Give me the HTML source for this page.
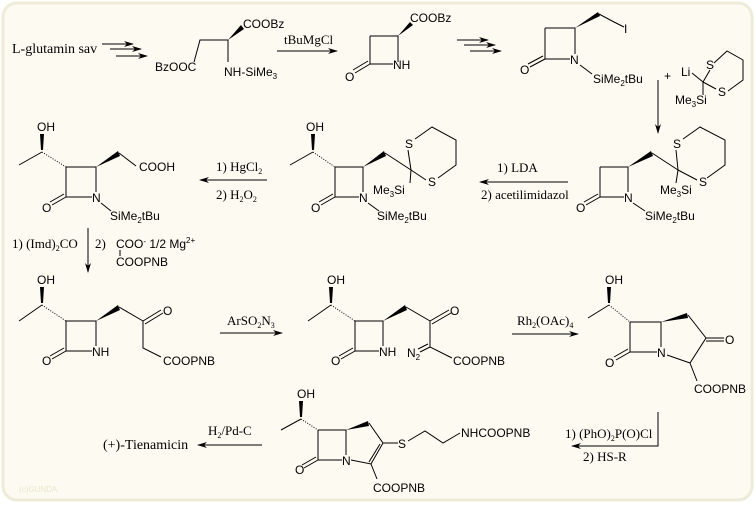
<!DOCTYPE html>
<html><head><meta charset="utf-8"><style>
html,body{margin:0;padding:0;background:#fff;width:756px;height:506px;overflow:hidden}
svg{display:block}
.s{font-family:"Liberation Sans",sans-serif;font-size:12px;fill:#000}
.r{font-family:"Liberation Serif",serif;font-size:13px;fill:#000}
line,polyline,polygon.b{stroke:#000;stroke-width:1;fill:none}
</style></head><body>
<svg width="756" height="506" viewBox="0 0 756 506" xmlns="http://www.w3.org/2000/svg">
<defs>
<marker id="ah" markerWidth="10" markerHeight="6" refX="9" refY="3" orient="auto" markerUnits="userSpaceOnUse"><path d="M0,0 L10,3 L0,6 L3,3 Z" fill="#000"/></marker>
</defs>
<rect x="3" y="3" width="749" height="497" rx="14" fill="#fdfaf2" stroke="#eeebd8" stroke-width="3"/>

<!-- Row 1 -->
<text class="r" x="12" y="53" style="font-size:14px">L-glutamin sav</text>
<line x1="102" y1="44" x2="133" y2="44" marker-end="url(#ah)"/>
<line x1="110" y1="49" x2="141" y2="49" marker-end="url(#ah)"/>
<line x1="116" y1="56" x2="147" y2="56" marker-end="url(#ah)"/>
<text class="s" x="155" y="71">BzOOC</text>
<polyline points="194,62 200,40 228,40 228,62"/>
<polygon points="228,40 241,25 244,29" fill="#000"/>
<text class="s" x="243" y="28">COOBz</text>
<text class="s" x="224" y="76">NH-SiMe<tspan font-size="8" dy="3">3</tspan></text>
<line x1="277" y1="51" x2="337" y2="51" marker-end="url(#ah)"/>
<text class="r" x="284" y="44">tBuMgCl</text>

<polyline points="370,36 398,36 398,62"/>
<line x1="370" y1="36" x2="370" y2="64"/>
<line x1="370" y1="64" x2="393" y2="64"/>
<line x1="370" y1="64" x2="355" y2="73"/><line x1="368" y1="61" x2="353" y2="70"/>
<text class="s" x="345" y="81">O</text>
<text class="s" x="393" y="69">NH</text>
<polygon points="398,36 410,22 413,25" fill="#000"/>
<text class="s" x="410" y="22">COOBz</text>
<line x1="457" y1="40" x2="488" y2="40" marker-end="url(#ah)"/>
<line x1="464" y1="45" x2="495" y2="45" marker-end="url(#ah)"/>
<line x1="470" y1="51" x2="501" y2="51" marker-end="url(#ah)"/>

<polyline points="545,28 575,28 575,54"/>
<line x1="545" y1="28" x2="545" y2="59"/>
<line x1="545" y1="59" x2="570" y2="59"/>
<line x1="545" y1="59" x2="530" y2="67"/><line x1="543" y1="56" x2="528" y2="64"/>
<text class="s" x="520" y="74">O</text>
<text class="s" x="570" y="64">N</text>
<line x1="580" y1="65" x2="592" y2="74"/>
<text class="s" x="593" y="83">SiMe<tspan font-size="8" dy="3">2</tspan><tspan dy="-3">tBu</tspan></text>
<polygon points="575,28 598,12 600,16" fill="#000"/>
<polyline points="599,14 614,22 624,27"/>
<text class="s" x="624" y="33">I</text>
<text class="s" x="664" y="80">+</text>
<text class="s" x="681" y="76">Li</text>
<line x1="692" y1="73" x2="703" y2="82"/>
<text class="s" x="706" y="69">S</text>
<text class="s" x="718" y="96">S</text>
<polyline points="703,82 710,70"/>
<polyline points="714,63 727,51 743,60 743,80 728,91"/>
<line x1="703" y1="82" x2="716" y2="89"/>
<line x1="703" y1="82" x2="703" y2="95"/>
<text class="s" x="675" y="104">Me<tspan font-size="8" dy="3">3</tspan><tspan dy="-3">Si</tspan></text>
<line x1="658" y1="80" x2="658" y2="133" marker-end="url(#ah)"/>

<!-- Row 2 right -->
<polyline points="600,167 628,167 628,192"/>
<line x1="600" y1="167" x2="600" y2="197"/>
<line x1="600" y1="197" x2="624" y2="197"/>
<line x1="600" y1="197" x2="586" y2="205"/><line x1="598" y1="194" x2="584" y2="202"/>
<text class="s" x="576" y="212">O</text>
<text class="s" x="624" y="202">N</text>
<line x1="633" y1="203" x2="645" y2="211"/>
<text class="s" x="645" y="220">SiMe<tspan font-size="8" dy="3">2</tspan><tspan dy="-3">tBu</tspan></text>
<polygon points="628,167 651,151 653,156" fill="#000"/>
<polyline points="652,153 678,170"/>
<line x1="678" y1="170" x2="676" y2="150"/>
<text class="s" x="673" y="148">S</text>
<polyline points="683,139 700,127 725,140 725,165 707,178"/>
<text class="s" x="699" y="186">S</text>
<line x1="678" y1="170" x2="697" y2="180"/>
<line x1="678" y1="170" x2="676" y2="183"/>
<text class="s" x="660" y="194">Me<tspan font-size="8" dy="3">3</tspan><tspan dy="-3">Si</tspan></text>
<line x1="568" y1="182" x2="480" y2="182" marker-end="url(#ah)"/>
<text class="r" x="497" y="172">1) LDA</text>
<text class="r" x="481" y="199">2)  acetilimidazol</text>

<!-- Row 2 middle -->
<text class="s" x="306" y="131">OH</text>
<polygon points="311,134 315,134 314,150 312,150" fill="#000"/>
<line x1="313" y1="152" x2="290" y2="165"/>
<line x1="313" y1="152" x2="335" y2="167" stroke-dasharray="1,1.5"/>
<polyline points="335,167 363,167 363,192"/>
<line x1="335" y1="167" x2="335" y2="197"/>
<line x1="335" y1="197" x2="359" y2="197"/>
<line x1="335" y1="197" x2="321" y2="205"/><line x1="333" y1="194" x2="319" y2="202"/>
<text class="s" x="311" y="212">O</text>
<text class="s" x="359" y="202">N</text>
<line x1="368" y1="203" x2="379" y2="211"/>
<text class="s" x="377" y="220">SiMe<tspan font-size="8" dy="3">2</tspan><tspan dy="-3">tBu</tspan></text>
<polygon points="363,167 384,151 386,156" fill="#000"/>
<polyline points="385,153 411,170"/>
<line x1="411" y1="170" x2="408" y2="150"/>
<text class="s" x="405" y="148">S</text>
<polyline points="415,139 432,127 456,140 456,165 438,178"/>
<text class="s" x="428" y="186">S</text>
<line x1="411" y1="170" x2="426" y2="180"/>
<line x1="411" y1="170" x2="410" y2="183"/>
<text class="s" x="373" y="194">Me<tspan font-size="8" dy="3">3</tspan><tspan dy="-3">Si</tspan></text>
<line x1="267" y1="180" x2="200" y2="180" marker-end="url(#ah)"/>
<text class="r" x="216" y="171">1) HgCl<tspan font-size="8" dy="3">2</tspan></text>
<text class="r" x="216" y="199">2) H<tspan font-size="8" dy="3">2</tspan><tspan dy="-3">O</tspan><tspan font-size="8" dy="3">2</tspan></text>

<!-- Row 2 left -->
<text class="s" x="37" y="131">OH</text>
<polygon points="40,134 44,134 43,150 41,150" fill="#000"/>
<line x1="42" y1="152" x2="19" y2="165"/>
<line x1="42" y1="152" x2="66" y2="167" stroke-dasharray="1,1.5"/>
<polyline points="66,167 96,167 96,192"/>
<line x1="66" y1="167" x2="66" y2="197"/>
<line x1="66" y1="197" x2="92" y2="197"/>
<line x1="66" y1="197" x2="52" y2="205"/><line x1="64" y1="194" x2="50" y2="202"/>
<text class="s" x="42" y="212">O</text>
<text class="s" x="92" y="202">N</text>
<line x1="101" y1="203" x2="111" y2="211"/>
<text class="s" x="110" y="220">SiMe<tspan font-size="8" dy="3">2</tspan><tspan dy="-3">tBu</tspan></text>
<polygon points="96,167 118,151 120,156" fill="#000"/>
<polyline points="119,153 136,166"/>
<text class="s" x="139" y="171">COOH</text>

<line x1="88" y1="228" x2="88" y2="272" marker-end="url(#ah)"/>
<text class="r" x="12" y="248">1)  (Imd)<tspan font-size="8" dy="3">2</tspan><tspan dy="-3">CO</tspan></text>
<text class="r" x="95" y="248">2)</text>
<text class="s" x="116" y="248">COO<tspan font-size="8" dy="-4">-</tspan><tspan dy="4"> 1/2 Mg</tspan><tspan font-size="8" dy="-5">2+</tspan></text>
<line x1="120" y1="250" x2="120" y2="256"/>
<text class="s" x="116" y="266">COOPNB</text>

<!-- Row 3 left -->
<text class="s" x="37" y="284">OH</text>
<polygon points="40,287 44,287 43,303 41,303" fill="#000"/>
<line x1="42" y1="305" x2="19" y2="321"/>
<line x1="42" y1="305" x2="66" y2="321" stroke-dasharray="1,1.5"/>
<polyline points="66,321 96,321 96,346"/>
<line x1="66" y1="321" x2="66" y2="351"/>
<line x1="66" y1="351" x2="92" y2="351"/>
<line x1="66" y1="351" x2="52" y2="359"/><line x1="64" y1="348" x2="50" y2="356"/>
<text class="s" x="42" y="365">O</text>
<text class="s" x="92" y="356">NH</text>
<polygon points="96,321 118,305 120,310" fill="#000"/>
<polyline points="119,307 143,321 143,348 161,357"/>
<line x1="143" y1="321" x2="161" y2="310"/><line x1="145" y1="324" x2="163" y2="313"/>
<text class="s" x="163" y="315">O</text>
<text class="s" x="163" y="365">COOPNB</text>
<line x1="220" y1="333" x2="282" y2="333" marker-end="url(#ah)"/>
<text class="r" x="227" y="325">ArSO<tspan font-size="8" dy="3">2</tspan><tspan dy="-3">N</tspan><tspan font-size="8" dy="3">3</tspan></text>

<!-- Row 3 middle -->
<text class="s" x="327" y="284">OH</text>
<polygon points="329,287 333,287 332,303 330,303" fill="#000"/>
<line x1="331" y1="305" x2="308" y2="321"/>
<line x1="331" y1="305" x2="355" y2="321" stroke-dasharray="1,1.5"/>
<polyline points="355,321 383,321 383,346"/>
<line x1="355" y1="321" x2="355" y2="351"/>
<line x1="355" y1="351" x2="379" y2="351"/>
<line x1="355" y1="351" x2="341" y2="359"/><line x1="353" y1="348" x2="339" y2="356"/>
<text class="s" x="331" y="365">O</text>
<text class="s" x="379" y="356">NH</text>
<polygon points="383,321 405,305 407,310" fill="#000"/>
<polyline points="406,307 430,321 430,347 452,358"/>
<line x1="430" y1="321" x2="449" y2="310"/><line x1="432" y1="324" x2="451" y2="313"/>
<text class="s" x="450" y="315">O</text>
<line x1="430" y1="347" x2="420" y2="352"/><line x1="428" y1="344" x2="418" y2="349"/>
<text class="s" x="407" y="357">N<tspan font-size="8" dy="3">2</tspan></text>
<text class="s" x="453" y="365">COOPNB</text>
<line x1="512" y1="334" x2="578" y2="334" marker-end="url(#ah)"/>
<text class="r" x="517" y="325">Rh<tspan font-size="8" dy="3">2</tspan><tspan dy="-3">(OAc)</tspan><tspan font-size="8" dy="3">4</tspan></text>

<!-- Row 3 right -->
<text class="s" x="605" y="284">OH</text>
<polygon points="607,287 611,287 610,303 608,303" fill="#000"/>
<line x1="609" y1="305" x2="588" y2="318"/>
<line x1="609" y1="305" x2="630" y2="322" stroke-dasharray="1,1.5"/>
<polyline points="630,322 661,322 661,347"/>
<line x1="630" y1="322" x2="630" y2="352"/>
<line x1="630" y1="352" x2="657" y2="352"/>
<line x1="630" y1="352" x2="616" y2="360"/><line x1="628" y1="349" x2="614" y2="357"/>
<text class="s" x="605" y="367">O</text>
<text class="s" x="657" y="357">N</text>
<polygon points="661,322 687,313 688,318" fill="#000"/>
<polyline points="688,315 706,338 690,363 667,355"/>
<line x1="706" y1="338" x2="724" y2="338"/><line x1="706" y1="341" x2="724" y2="341"/>
<text class="s" x="725" y="344">O</text>
<line x1="690" y1="363" x2="697" y2="381"/>
<text class="s" x="694" y="393">COOPNB</text>
<polyline points="658,412 658,446 572,446" marker-end="url(#ah)"/>
<text class="r" x="565" y="438">1)  (PhO)<tspan font-size="8" dy="3">2</tspan><tspan dy="-3">P(O)Cl</tspan></text>
<text class="r" x="583" y="461">2)  HS-R</text>

<!-- Row 4 -->
<text class="s" x="297" y="398">OH</text>
<polygon points="299,401 303,401 302,417 300,417" fill="#000"/>
<line x1="301" y1="419" x2="281" y2="430"/>
<line x1="301" y1="419" x2="318" y2="430" stroke-dasharray="1,1.5"/>
<polyline points="318,430 346,430 346,455"/>
<line x1="318" y1="430" x2="318" y2="460"/>
<line x1="318" y1="460" x2="342" y2="460"/>
<line x1="318" y1="460" x2="304" y2="468"/><line x1="316" y1="457" x2="302" y2="465"/>
<text class="s" x="295" y="474">O</text>
<text class="s" x="342" y="465">N</text>
<polygon points="346,430 368,421 369,426" fill="#000"/>
<polyline points="369,423 383,443 371,464 351,460"/>
<line x1="380" y1="444" x2="369" y2="462"/>
<line x1="383" y1="443" x2="398" y2="443"/>
<text class="s" x="398" y="448">S</text>
<polyline points="408,441 425,431 443,443 460,433"/>
<text class="s" x="461" y="437">NHCOOPNB</text>
<line x1="371" y1="464" x2="377" y2="479"/>
<text class="s" x="373" y="492">COOPNB</text>
<line x1="262" y1="445" x2="198" y2="445" marker-end="url(#ah)"/>
<text class="r" x="208" y="435">H<tspan font-size="8" dy="3">2</tspan><tspan dy="-3">/Pd-C</tspan></text>
<text class="r" x="103" y="449" style="font-size:14px">(+)-Tienamicin</text>
<text x="19" y="492" font-family="Liberation Sans,sans-serif" font-size="8" fill="#ebe6cc">(c)GUNDA</text>
</svg>
</body></html>
